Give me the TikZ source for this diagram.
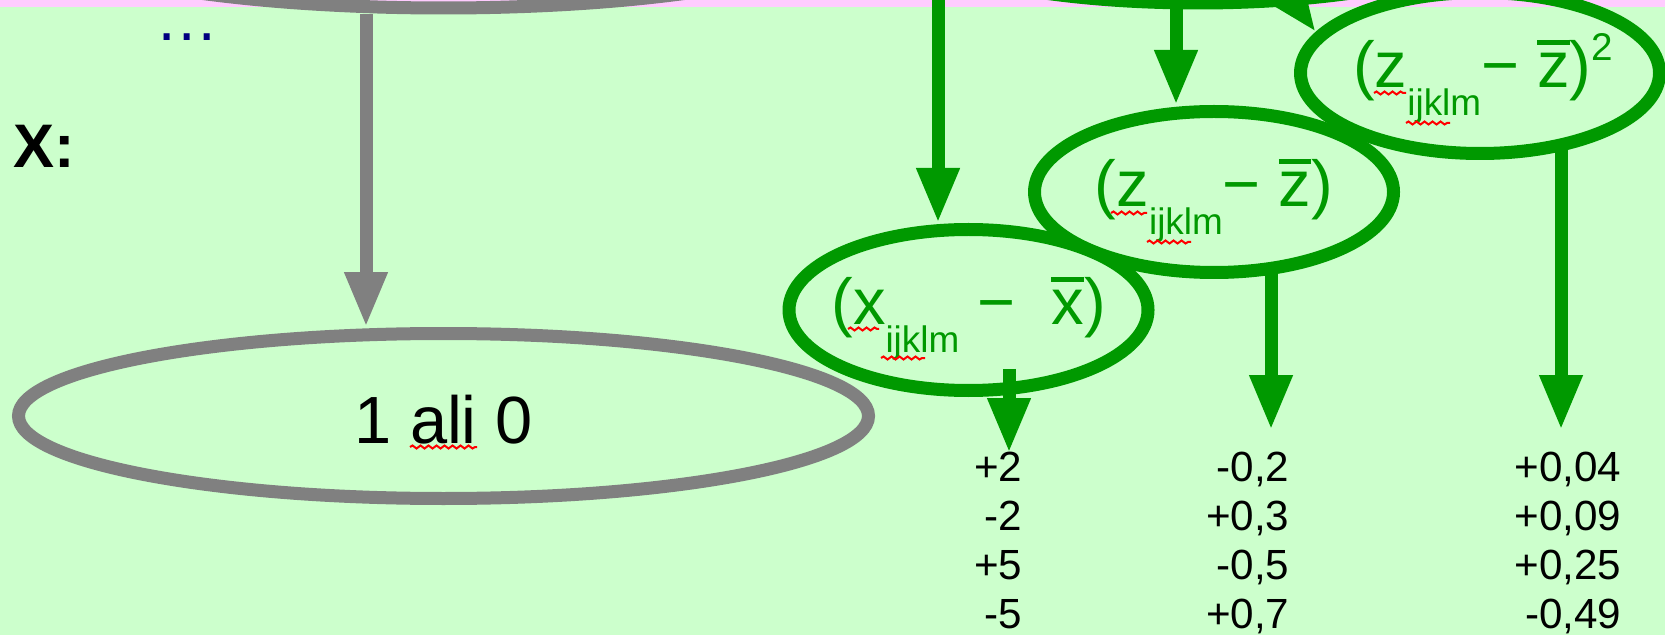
\documentclass[tikz,border=0pt]{standalone}
\usepackage{fontspec}
\setmainfont{Liberation Sans}
\usepackage{xcolor}
\usepackage{tikz}
\usetikzlibrary{arrows.meta,calc,shapes.geometric,decorations.pathmorphing}
\definecolor{bgcol}{HTML}{CCFFCC}
\definecolor{pinkband}{HTML}{FFCCFF}
\definecolor{grn}{HTML}{009900}
\definecolor{gry}{HTML}{808080}
\definecolor{navy}{HTML}{000080}
\newsavebox{\barbox}
\newcommand{\lowidx}[1]{\raisebox{-0.43em}{\fontsize{10.5}{12}\selectfont #1}}
\newcommand{\highidx}[1]{\raisebox{0.43em}{\fontsize{11}{13}\selectfont #1}}
\newcommand{\barred}[1]{\sbox{\barbox}{#1}\rlap{\rule[0.66em]{\wd\barbox}{0.075em}}#1}

\begin{document}
\begin{tikzpicture}[
  x=0.1mm, y=-0.1mm,
  grnell/.style={ellipse, draw=grn, line width=1.3mm, minimum width=35.9mm, minimum height=16.1mm, inner sep=0pt},
  gryell/.style={ellipse, draw=gry, line width=1.3mm, minimum width=85mm, minimum height=16.5mm, inner sep=0pt},
  grnarr/.style={draw=grn, line width=1.3mm, -{Triangle[length=5.5mm, width=4mm]}},
  gryarr/.style={grnarr, draw=gry},
  ftxt/.style={text=grn, font=\fontsize{18.5}{22}\selectfont, inner sep=0pt, anchor=base},
  num/.style={font=\fontsize{12}{14}\selectfont, inner sep=0pt, anchor=base east},
  squig/.style={draw=red, line width=0.2mm, decorate, decoration={snake, amplitude=0.15mm, segment length=0.8mm}},
]
\useasboundingbox (0,0) rectangle (1665,635);
\clip (0,0) rectangle (1665,635);
\fill[bgcol] (0,0) rectangle (1665,635);
\fill[pinkband] (0,0) rectangle (1665,7);
% ---------------- ellipses ----------------
\node[gryell] (g0) at (443.5,-74.5) {};
\node[grnell, minimum width=63.4mm, minimum height=16mm] (e0) at (1198,-77) {};
\node[gryell] (g1) at (443.5,416) {};
\node[grnell] (e1) at (968.5,310) {};
\node[grnell] (e2) at (1214,192) {};
\node[grnell] (e3) at (1480,73) {};
% ---------------- labels ----------------
\node[text=navy, font=\fontsize{18}{22}\selectfont, inner sep=0pt, anchor=base, text height=1.5mm, text depth=0pt] (dots) at (187,41) {…};
\node[font=\bfseries\fontsize{17.5}{21}\selectfont, inner sep=0pt, anchor=base] (xlab) at (44,168) {X:};
\node[font=\fontsize{19}{23}\selectfont, inner sep=0pt, anchor=base] (t0) at ($(g1.center)+(0,27)$) {1 ali 0};
\node[ftxt] (t1) at ($(e1.center)+(0,15)$) {(x\lowidx{ijklm} − \ \barred{x})};
\node[ftxt] (t2) at ($(e2.center)+(0,15)$) {(z\lowidx{ijklm}− \barred{z})};
\node[ftxt] (t3) at ($(e3.center)+(3,15)$) {(z\lowidx{ijklm}− \barred{z})\highidx{2}};
% ---------------- arrows ----------------
\coordinate (gx) at (366,0);
\draw[gryarr] (gx |- g0.south) -- (gx |- g1.north);
\coordinate (a1) at (938,-10);
\draw[grnarr] (a1) -- (a1 |- e1.north);
\coordinate (v2) at (1176,0);
\draw[grnarr] (v2 |- e0.south) -- (v2 |- e2.north);
\draw[grnarr] (e0.320) -- (e3.166);
\coordinate (n1) at (1009,453);
\coordinate (n2) at (1271,430);
\coordinate (n3) at (1561,430);
\draw[grnarr] ($(n1 |- e1.south)+(0,-28)$) -- (n1);
\draw[grnarr] ($(n2 |- e2.south)+(0,-10)$) -- (n2);
\draw[grnarr] ($(n3 |- e3.south)+(0,-14)$) -- (n3);
% ---------------- values ----------------
\foreach \a/\b/\c [count=\i] in {{+2}/{-0,2}/{+0,04},{-2}/{+0,3}/{+0,09},{+5}/{-0,5}/{+0,25},{-5}/{+0,7}/{-0,49}} {
  \node[num] (c1r\i) at (1023,432+49*\i) {\a};
  \node[num] (c2r\i) at (1290,432+49*\i) {\b};
  \node[num] (c3r\i) at (1622,432+49*\i) {\c};
}
% spelling marks
\draw[squig] (848,329) -- (879,329);
\draw[squig] (881,358) -- (925,358);
\draw[squig] (1111,213) -- (1147,213);
\draw[squig] (1147,242) -- (1191,242);
\draw[squig] (1374,93) -- (1406,93);
\draw[squig] (1406,123) -- (1450,123);
\draw[squig] (410,447) -- (477,447);
\end{tikzpicture}
\end{document}
